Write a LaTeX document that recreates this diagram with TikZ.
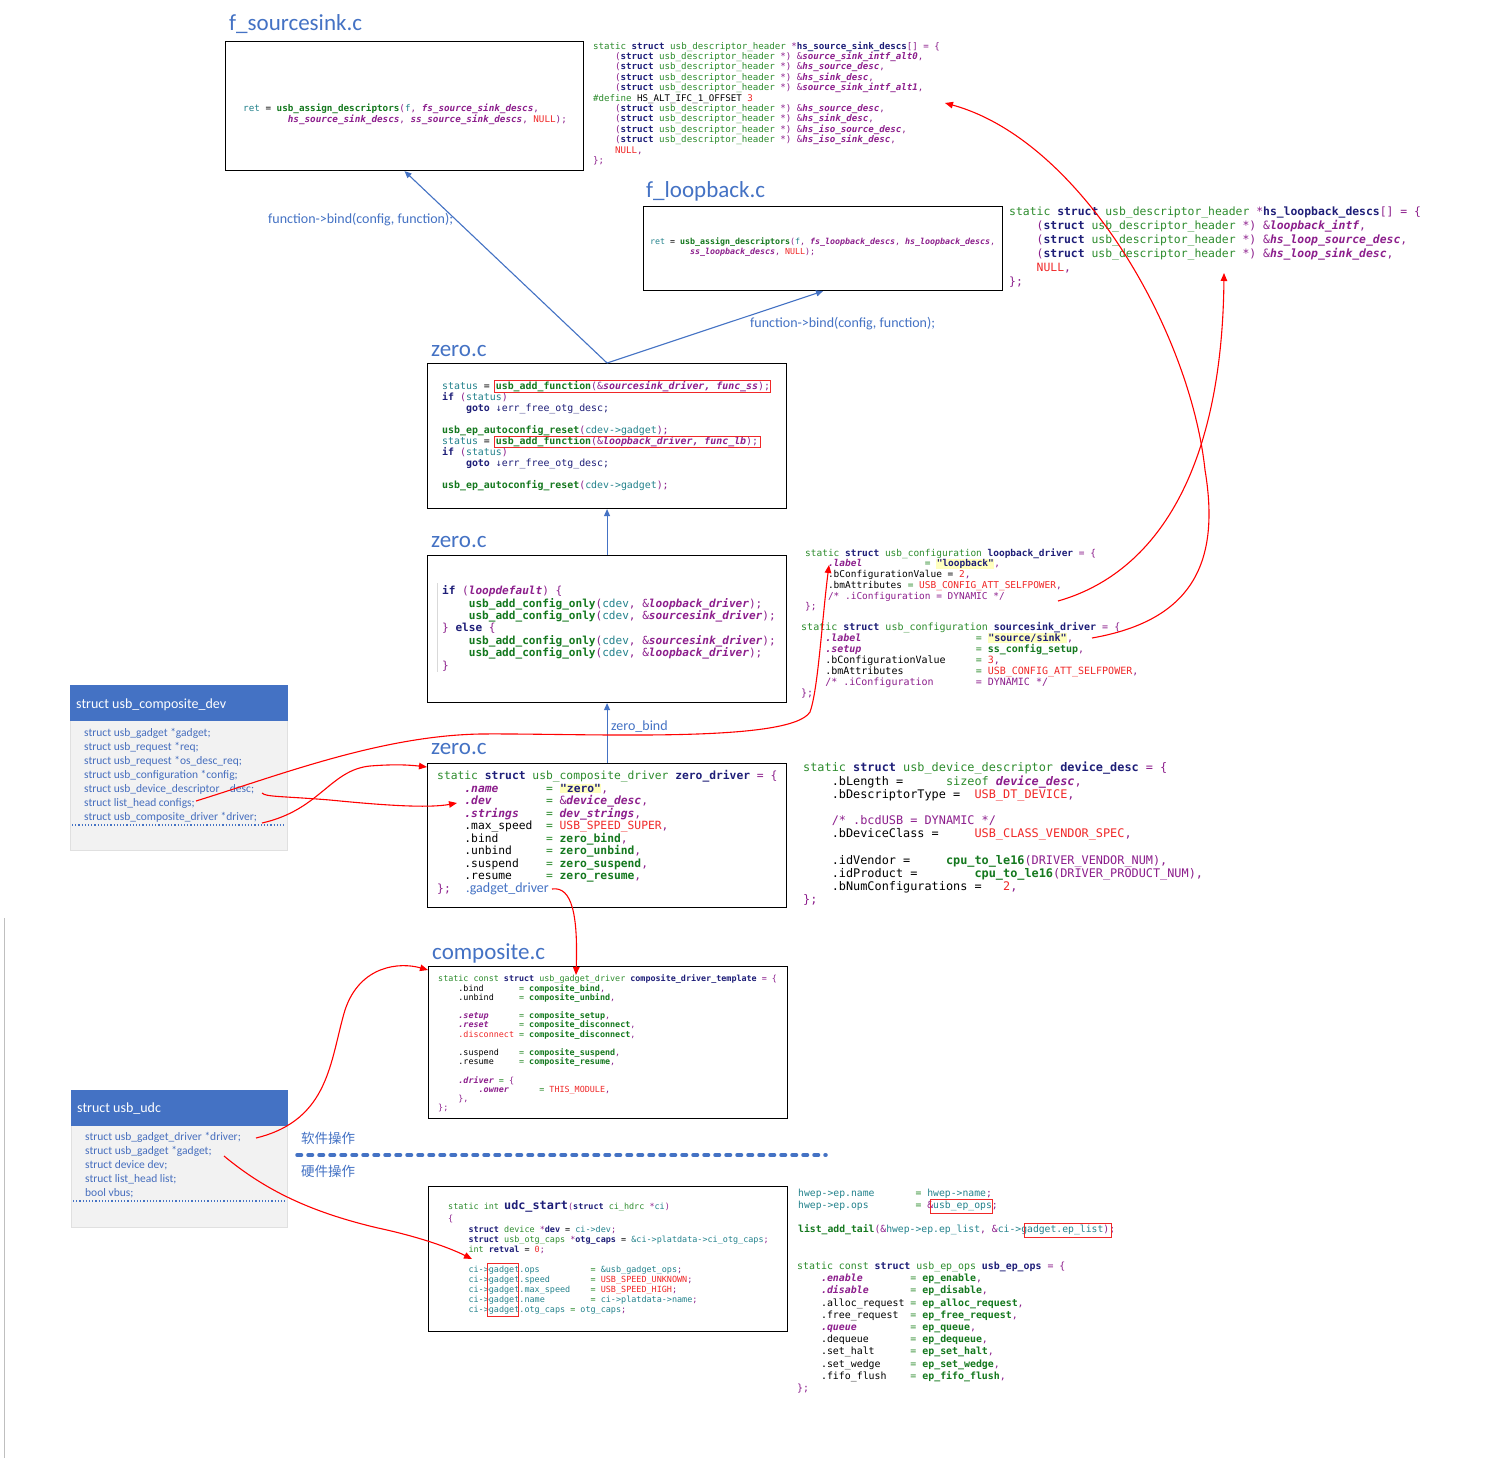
\documentclass[tikz,border=0pt]{standalone}
\usepackage{fontspec}
\setmonofont{DejaVu Sans Mono}
\newfontfamily\calib{Carlito}
\newfontfamily\cjk{Noto Sans CJK SC}
\usetikzlibrary{arrows.meta}
\catcode`\_=12
\definecolor{tblue}{RGB}{68,114,196}
\definecolor{cnavy}{RGB}{30,30,120}
\definecolor{cgreen}{RGB}{45,140,45}
\definecolor{cgreenb}{RGB}{20,120,30}
\definecolor{cpurp}{RGB}{140,30,140}
\definecolor{cred}{RGB}{240,40,40}
\definecolor{cteal}{RGB}{35,130,140}
\definecolor{panelbg}{RGB}{242,242,242}
\definecolor{hly}{RGB}{255,255,190}
\definecolor{ptext}{RGB}{70,110,190}
\newcommand\cK[1]{\textcolor{cnavy}{\bfseries #1}}
\newcommand\cG[1]{\textcolor{cgreen}{#1}}
\newcommand\cF[1]{\textcolor{cgreenb}{\bfseries #1}}
\newcommand\cP[1]{\textcolor{cpurp}{#1}}
\newcommand\cI[1]{\textcolor{cpurp}{\bfseries\itshape #1}}
\newcommand\cR[1]{\textcolor{cred}{#1}}
\newcommand\cT[1]{\textcolor{cteal}{#1}}
\newcommand\hly[1]{{\setlength\fboxsep{0.5pt}\colorbox{hly}{\textcolor{cnavy}{\bfseries #1}}}}
\newcommand\strt{\rule{0pt}{1em}}
\newcommand\fs[2]{\ttfamily\fontsize{#1}{#2}\selectfont\lineskiplimit=-20pt}
\newcommand\pf[2]{\calib\fontsize{#1}{#2}\selectfont\lineskiplimit=-20pt}
\newcommand\udh{\cP{(}\cK{struct} \cG{usb_descriptor_header} \cP{*)} \cP{\&}}
\begin{document}
\begin{tikzpicture}[x=1pt,y=-1pt,
  code/.style={anchor=north west, inner sep=0pt, align=left, text=black},
  box/.style={draw=black, line width=1.1pt, anchor=north west, inner sep=0pt, fill=white},
  ttl/.style={anchor=base west, inner sep=0pt, text=tblue, font=\calib\fontsize{23}{26}\selectfont},
  lbl/.style={anchor=base west, inner sep=0pt, text=tblue, font=\calib\fontsize{14}{16}\selectfont},
  barrow/.style={draw=tblue, line width=1.1pt, -{Triangle[length=7pt,width=6pt]}},
  rarrow/.style={draw=red, line width=1.1pt, -{Triangle[length=8pt,width=6.5pt]}},
  redbox/.style={draw=cred, line width=0.9pt},
  panel/.style={anchor=north west, inner sep=0pt, fill=panelbg, draw=black!12},
  phead/.style={anchor=north west, inner sep=0pt, fill=tblue, draw=tblue},
  ptxt/.style={anchor=north west, inner sep=0pt, align=left, text=ptext, font=\pf{11.5}{14}},
  htxt/.style={anchor=base west, inner sep=0pt, text=white, font=\calib\fontsize{14}{16}\selectfont},
  cjkl/.style={anchor=west, inner sep=0pt, text=tblue, font=\cjk\fontsize{13.5}{15}\selectfont}]
\useasboundingbox (0,0) rectangle (1488,1458);
\fill[white] (0,0) rectangle (1488,1458);
\draw[black!25, line width=0.8pt] (4,918) -- (4,1458);

% ---------- boxes ----------
\node[box, minimum width=358pt, minimum height=129pt] (bSS) at (225,41) {};
\node[box, minimum width=359pt, minimum height=84pt] (bLB) at (643,206) {};
\node[box, minimum width=359pt, minimum height=145pt] (bZ1) at (427,363) {};
\node[box, minimum width=359pt, minimum height=147pt] (bZ2) at (427,555) {};
\node[box, minimum width=359pt, minimum height=144pt] (bZ3) at (427,763) {};
\node[box, minimum width=359pt, minimum height=152pt] (bCP) at (428,966) {};
\node[box, minimum width=359pt, minimum height=145pt] (bUDC) at (428,1186) {};

% ---------- titles ----------
\node[ttl] (tSS) at (229,31) {f_sourcesink.c};
\node[ttl] (tLB) at (646,198) {f_loopback.c};
\node[ttl] (tZa) at (431,356) {zero.c};
\node[ttl] (tZb) at (431,547) {zero.c};
\node[ttl] (tZc) at (431,754) {zero.c};
\node[ttl] (tCP) at (432,959) {composite.c};

\node[lbl] (lbA) at (268,224) {function->bind(config, function);};
\node[lbl] (lbB) at (750,327) {function->bind(config, function);};
\node[lbl] (lzb) at (611,730) {zero_bind};

% ---------- f_sourcesink ----------
\node[code, font=\fs{9.27}{11}] (cA) at (243,101.7) {\strt\cT{ret} = \cF{usb_assign_descriptors}\cP{(}\cT{f}\cP{,} \cI{fs_source_sink_descs}\cP{,}\\
~~~~~~~~\cI{hs_source_sink_descs}\cP{,} \cI{ss_source_sink_descs}\cP{,} \cR{NULL}\cP{);}};

\node[code, font=\fs{9.14}{10.4}] (cB) at (593,39.8) {\strt\cG{static} \cK{struct} \cG{usb_descriptor_header} \cP{*}\cK{hs_source_sink_descs}\cP{[] = \{}\\
~~~~\udh\cI{source_sink_intf_alt0}\cP{,}\\
~~~~\udh\cI{hs_source_desc}\cP{,}\\
~~~~\udh\cI{hs_sink_desc}\cP{,}\\
~~~~\udh\cI{source_sink_intf_alt1}\cP{,}\\
\cG{\#define} HS_ALT_IFC_1_OFFSET \cR{3}\\
~~~~\udh\cI{hs_source_desc}\cP{,}\\
~~~~\udh\cI{hs_sink_desc}\cP{,}\\
~~~~\udh\cI{hs_iso_source_desc}\cP{,}\\
~~~~\udh\cI{hs_iso_sink_desc}\cP{,}\\
~~~~\cR{NULL}\cP{,}\\
\cP{\};}};

% ---------- f_loopback ----------
\node[code, font=\fs{8.3}{10}] (cC) at (650,236.4) {\strt\cT{ret} = \cF{usb_assign_descriptors}\cP{(}\cT{f}\cP{,} \cI{fs_loopback_descs}\cP{,} \cI{hs_loopback_descs}\cP{,}\\
~~~~~~~~\cI{ss_loopback_descs}\cP{,} \cR{NULL}\cP{);}};

\node[code, font=\fs{11.4}{14}] (cD) at (1009,204.2) {\strt\cG{static} \cK{struct} \cG{usb_descriptor_header} \cP{*}\cK{hs_loopback_descs}\cP{[] = \{}\\
~~~~\udh\cI{loopback_intf}\cP{,}\\
~~~~\udh\cI{hs_loop_source_desc}\cP{,}\\
~~~~\udh\cI{hs_loop_sink_desc}\cP{,}\\
~~~~\cR{NULL}\cP{,}\\
\cP{\};}};

% ---------- zero.c (1) ----------
\node[code, font=\fs{9.9}{11}] (cE) at (442,379.3) {\strt\cT{status} = \cF{usb_add_function}\cP{(\&}\cI{sourcesink_driver, func_ss}\cP{);}\\
\cK{if} \cP{(}\cT{status}\cP{)}\\
~~~~\cK{goto} \textcolor{cnavy}{↓err_free_otg_desc;}\\
\mbox{}\\
\cF{usb_ep_autoconfig_reset}\cP{(}\cT{cdev->gadget}\cP{);}\\
\cT{status} = \cF{usb_add_function}\cP{(\&}\cI{loopback_driver, func_lb}\cP{);}\\
\cK{if} \cP{(}\cT{status}\cP{)}\\
~~~~\cK{goto} \textcolor{cnavy}{↓err_free_otg_desc;}\\
\mbox{}\\
\cF{usb_ep_autoconfig_reset}\cP{(}\cT{cdev->gadget}\cP{);}};
\draw[redbox] (494,380) rectangle (770,392);
\draw[redbox] (494,436) rectangle (760,447);

% ---------- zero.c (2) ----------
\draw[black!15, line width=0.6pt] (437,583) -- (437,672);
\node[code, font=\fs{11.08}{12.4}] (cF) at (442,583.5) {\strt\cK{if} \cP{(}\cI{loopdefault}\cP{) \{}\\
~~~~\cF{usb_add_config_only}\cP{(}\cT{cdev}\cP{,} \cP{\&}\cI{loopback_driver}\cP{);}\\
~~~~\cF{usb_add_config_only}\cP{(}\cT{cdev}\cP{,} \cP{\&}\cI{sourcesink_driver}\cP{);}\\
\cP{\}} \cK{else} \cP{\{}\\
~~~~\cF{usb_add_config_only}\cP{(}\cT{cdev}\cP{,} \cP{\&}\cI{sourcesink_driver}\cP{);}\\
~~~~\cF{usb_add_config_only}\cP{(}\cT{cdev}\cP{,} \cP{\&}\cI{loopback_driver}\cP{);}\\
\cP{\}}};

% ---------- zero.c (3) ----------
\node[code, font=\fs{11.3}{12.5}] (cG) at (437,768.3) {\strt\cG{static} \cK{struct} \cG{usb_composite_driver} \cK{zero_driver} \cP{= \{}\\
~~~~\cI{.name}~~~~~~~\cG{=} \hly{"zero"}\cP{,}\\
~~~~\cI{.dev}~~~~~~~~\cG{=} \cP{\&}\cI{device_desc}\cP{,}\\
~~~~\cI{.strings}~~~~\cG{=} \cI{dev_strings}\cP{,}\\
~~~~.max_speed~~\cG{=} \cR{USB_SPEED_SUPER}\cP{,}\\
~~~~.bind~~~~~~~\cG{=} \cF{zero_bind}\cP{,}\\
~~~~.unbind~~~~~\cG{=} \cF{zero_unbind}\cP{,}\\
~~~~.suspend~~~~\cG{=} \cF{zero_suspend}\cP{,}\\
~~~~.resume~~~~~\cG{=} \cF{zero_resume}\cP{,}\\
\cP{\};}};
\node[anchor=west, inner sep=0pt, text=tblue, font=\calib\fontsize{14}{16}\selectfont] (gd) at (466,889) {.gadget_driver};

% ---------- device_desc ----------
\node[code, font=\fs{11.86}{13.2}] (cH) at (803,759.9) {\strt\cG{static} \cK{struct} \cG{usb_device_descriptor} \cK{device_desc} \cP{= \{}\\
~~~~.bLength =~~~~~~\cG{sizeof} \cI{device_desc}\cP{,}\\
~~~~.bDescriptorType =~~\cR{USB_DT_DEVICE}\cP{,}\\
\mbox{}\\
~~~~\cP{/* .bcdUSB = DYNAMIC */}\\
~~~~.bDeviceClass =~~~~~\cR{USB_CLASS_VENDOR_SPEC}\cP{,}\\
\mbox{}\\
~~~~.idVendor =~~~~~\cF{cpu_to_le16}\cP{(DRIVER_VENDOR_NUM),}\\
~~~~.idProduct =~~~~~~~~\cF{cpu_to_le16}\cP{(DRIVER_PRODUCT_NUM),}\\
~~~~.bNumConfigurations =~~~\cR{2}\cP{,}\\
\cP{\};}};

% ---------- configurations ----------
\node[code, font=\fs{9.47}{10.7}] (cI) at (805,546.6) {\strt\cG{static} \cK{struct} \cG{usb_configuration} \cK{loopback_driver} \cP{= \{}\\
~~~~\cI{.label}~~~~~~~~~~~\cG{=} \hly{"loopback"}\cP{,}\\
~~~~.bConfigurationValue = \cR{2}\cP{,}\\
~~~~.bmAttributes \cG{=} \cR{USB_CONFIG_ATT_SELFPOWER}\cP{,}\\
~~~~\cP{/* .iConfiguration = DYNAMIC */}\\
\cP{\};}};
\node[code, font=\fs{10}{11}] (cJ) at (801,620.2) {\strt\cG{static} \cK{struct} \cG{usb_configuration} \cK{sourcesink_driver} \cP{= \{}\\
~~~~\cI{.label}~~~~~~~~~~~~~~~~~~~\cG{=} \hly{"source/sink"}\cP{,}\\
~~~~\cI{.setup}~~~~~~~~~~~~~~~~~~~\cG{=} \cF{ss_config_setup}\cP{,}\\
~~~~.bConfigurationValue~~~~~\cG{=} \cR{3}\cP{,}\\
~~~~.bmAttributes~~~~~~~~~~~~\cG{=} \cR{USB_CONFIG_ATT_SELFPOWER}\cP{,}\\
~~~~\cP{/* .iConfiguration~~~~~~~= DYNAMIC */}\\
\cP{\};}};

% ---------- composite.c ----------
\node[code, font=\fs{8.4}{9.2}] (cK) at (438,973.3) {\strt\cG{static} \cG{const} \cK{struct} \cG{usb_gadget_driver} \cK{composite_driver_template} \cP{= \{}\\
~~~~.bind~~~~~~~\cG{=} \cF{composite_bind}\cP{,}\\
~~~~.unbind~~~~~\cG{=} \cF{composite_unbind}\cP{,}\\
\mbox{}\\
~~~~\cI{.setup}~~~~~~\cG{=} \cF{composite_setup}\cP{,}\\
~~~~\cI{.reset}~~~~~~\cG{=} \cF{composite_disconnect}\cP{,}\\
~~~~\cR{.disconnect} \cG{=} \cF{composite_disconnect}\cP{,}\\
\mbox{}\\
~~~~.suspend~~~~\cG{=} \cF{composite_suspend}\cP{,}\\
~~~~.resume~~~~~\cG{=} \cF{composite_resume}\cP{,}\\
\mbox{}\\
~~~~\cI{.driver} \cG{=} \cP{\{}\\
~~~~~~~~\cI{.owner}~~~~~~\cG{=} \cR{THIS_MODULE}\cP{,}\\
~~~~\cP{\},}\\
\cP{\};}};

% ---------- udc_start ----------
\node[anchor=base west, inner sep=0pt, font=\ttfamily] (cL0) at (448,1209) {{\fontsize{8.45}{10}\selectfont\cG{static} \cG{int} }{\fontsize{11.8}{12}\selectfont\cK{udc_start}}{\fontsize{8.45}{10}\selectfont\cP{(}\cK{struct} \cG{ci_hdrc} \cP{*}\cT{ci}\cP{)}}};
\node[code, font=\fs{8.45}{10.1}] (cL) at (448,1213.3) {\strt\cP{\{}\\
~~~~\cK{struct} \cG{device} \cP{*}\cK{dev} = \cT{ci->dev}\cP{;}\\
~~~~\cK{struct} \cG{usb_otg_caps} \cP{*}\cK{otg_caps} = \cT{\&ci->platdata->ci_otg_caps}\cP{;}\\
~~~~\cG{int} \cK{retval} = \cR{0}\cP{;}\\
\mbox{}\\
~~~~\cT{ci->gadget.ops}~~~~~~~~~~\cG{=} \cT{\&usb_gadget_ops}\cP{;}\\
~~~~\cT{ci->gadget.speed}~~~~~~~~\cG{=} \cR{USB_SPEED_UNKNOWN}\cP{;}\\
~~~~\cT{ci->gadget.max_speed}~~~~\cG{=} \cR{USB_SPEED_HIGH}\cP{;}\\
~~~~\cT{ci->gadget.name}~~~~~~~~~\cG{=} \cT{ci->platdata->name}\cP{;}\\
~~~~\cT{ci->gadget.otg_caps} \cG{=} \cT{otg_caps}\cP{;}};
\draw[redbox] (487,1263) rectangle (518,1316);

% ---------- ep ops ----------
\node[code, font=\fs{9.75}{12.2}] (cM) at (798,1186.4) {\strt\cT{hwep->ep.name}~~~~~~~\cG{=} \cT{hwep->name}\cP{;}\\
\cT{hwep->ep.ops}~~~~~~~~\cG{=} \cP{\&}\cT{usb_ep_ops}\cP{;}\\
\mbox{}\\
\cF{list_add_tail}\cP{(\&}\cT{hwep->ep.ep_list}\cP{,} \cP{\&}\cT{ci->gadget.ep_list}\cP{);}};
\draw[redbox] (930,1199) rectangle (992,1213);
\draw[redbox] (1024,1223) rectangle (1111,1237);
\node[code, font=\fs{9.9}{12.2}] (cN) at (797,1259.3) {\strt\cG{static} \cG{const} \cK{struct} \cG{usb_ep_ops} \cK{usb_ep_ops} \cP{= \{}\\
~~~~\cI{.enable}~~~~~~~~\cG{=} \cF{ep_enable}\cP{,}\\
~~~~\cI{.disable}~~~~~~~\cG{=} \cF{ep_disable}\cP{,}\\
~~~~.alloc_request \cG{=} \cF{ep_alloc_request}\cP{,}\\
~~~~.free_request~~\cG{=} \cF{ep_free_request}\cP{,}\\
~~~~\cI{.queue}~~~~~~~~~\cG{=} \cF{ep_queue}\cP{,}\\
~~~~.dequeue~~~~~~~\cG{=} \cF{ep_dequeue}\cP{,}\\
~~~~.set_halt~~~~~~\cG{=} \cF{ep_set_halt}\cP{,}\\
~~~~.set_wedge~~~~~\cG{=} \cF{ep_set_wedge}\cP{,}\\
~~~~.fifo_flush~~~~\cG{=} \cF{ep_fifo_flush}\cP{,}\\
\cP{\};}};

% ---------- panels ----------
\node[panel, minimum width=217pt, minimum height=165pt] (pCD) at (70,685) {};
\node[phead, minimum width=217pt, minimum height=35pt] (hCD) at (70,685) {};
\node[htxt] (hCDt) at (76,708) {struct usb_composite_dev};
\node[ptxt] (pCDt) at (84,724.5) {\strt struct usb_gadget *gadget;\\
struct usb_request *req;\\
struct usb_request *os_desc_req;\\
struct usb_configuration *config;\\
struct usb_device_descriptor~~~~desc;\\
struct list_head configs;\\
struct usb_composite_driver *driver;};
\draw[tblue, dotted, line width=1.2pt] (72,825) -- (285,825);

\node[panel, minimum width=216pt, minimum height=137pt] (pUDC) at (71,1090) {};
\node[phead, minimum width=216pt, minimum height=35pt] (hUDC) at (71,1090) {};
\node[htxt] (hUDCt) at (77,1112) {struct usb_udc};
\node[ptxt] (pUDCt) at (85,1128.5) {\strt struct usb_gadget_driver *driver;\\
struct usb_gadget *gadget;\\
struct device dev;\\
struct list_head list;\\
bool vbus;};
\draw[tblue, dotted, line width=1.2pt] (73,1201) -- (285,1201);

% ---------- software / hardware divider ----------
\node[cjkl] (sw) at (301,1138) {软件操作};
\node[cjkl] (hw) at (301,1171) {硬件操作};
\draw[tblue, line width=3.5pt, line cap=round, dash pattern=on 4.5pt off 6.5pt] (297,1155) -- (826,1155);

% ---------- blue connectors ----------
\draw[barrow] (bZ1.north) -- (bSS.south);
\draw[barrow] (bZ1.north) -- (bLB.south);
\draw[barrow] (bZ2.north) -- (bZ1.south);
\draw[barrow] (bZ3.north) -- (bZ2.south);

% ---------- red connectors ----------
\coordinate (sCfg) at (196,801);
\coordinate (qLbl) at (829,565);
\coordinate (sDesc) at (262,793);
\coordinate (qDev) at (457,803);
\coordinate (sDrv) at (262,823);
\coordinate (qZc) at (427,767);
\coordinate (qCPt) at (576,975);
\coordinate (sUdcDrv) at (256,1138);
\coordinate (qCPl) at (428,970);
\coordinate (sUdcGad) at (224,1156);
\coordinate (qUdc) at (472,1259);
\coordinate (sLbDrv) at (1058,601);
\coordinate (qLbDesc) at (1224,273);
\coordinate (sSsDrv) at (1092,638);
\coordinate (qSsDesc) at (945,103);

\draw[rarrow] (sCfg) .. controls (280,775) and (380,736) .. (480,734) .. controls (580,733) and (790,744) .. (810,712) .. controls (818,690) and (822,620) .. (qLbl);
\draw[rarrow] (sDesc) .. controls (266,797) and (280,796) .. (330,800) .. controls (390,806) and (430,808) .. (qDev);
\draw[rarrow] (sDrv) .. controls (320,810) and (330,770) .. (370,766) .. controls (395,764) and (410,765) .. (qZc);
\draw[rarrow] ([xshift=3pt]gd.east) .. controls (572,886) and (578,915) .. (qCPt);
\draw[rarrow] (sUdcDrv) .. controls (330,1120) and (330,1060) .. (345,1010) .. controls (360,965) and (400,962) .. (qCPl);
\draw[rarrow] (sUdcGad) .. controls (265,1190) and (310,1212) .. (378,1228) .. controls (420,1237) and (450,1248) .. (qUdc);
\draw[rarrow] (sLbDrv) .. controls (1150,575) and (1222,480) .. (qLbDesc);
\draw[rarrow] (sSsDrv) .. controls (1195,620) and (1220,560) .. (1205,470) .. controls (1190,330) and (1080,140) .. (qSsDesc);
\end{tikzpicture}
\end{document}
